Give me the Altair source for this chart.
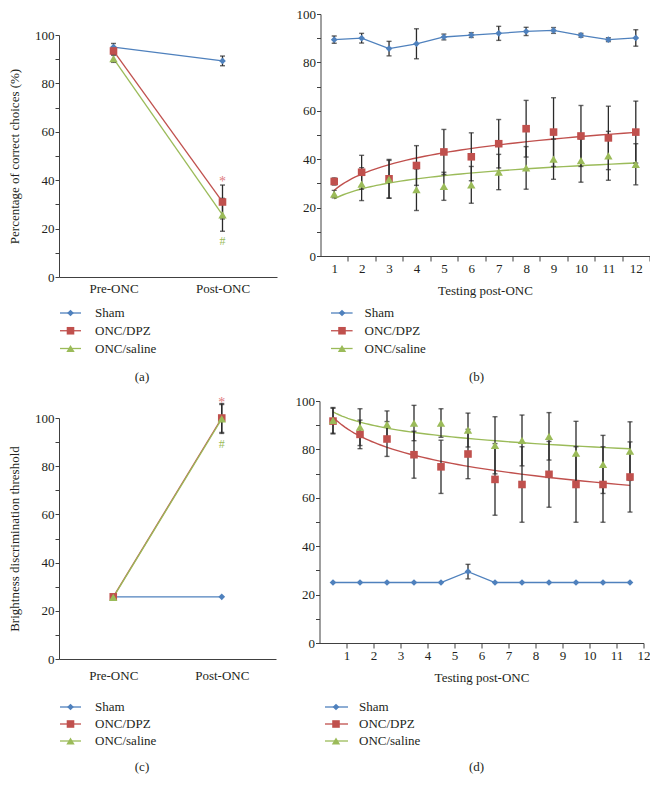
import altair as alt
import pandas as pd

FONT = "Liberation Serif"
TXT = "#231F20"
AX = "#404040"
EB = "#2a2a2a"

groups = ["Sham", "ONC/DPZ", "ONC/saline"]
colors = ["#4F81BD", "#C0504D", "#9BBB59"]
shapes = ["diamond", "square", "triangle-up"]

# ---------- panel (a) ----------
phases = ["Pre-ONC", "Post-ONC"]
a_sham = [95.0, 89.3]
a_sham_err = [1.5, 2.0]
a_dpz = [93.4, 31.0]
a_dpz_err = [1.5, 7.0]
a_sal = [90.2, 25.7]
a_sal_err = [1.5, 6.8]
a_star = 40.6
a_hash = 14.9

# ---------- panel (b) ----------
b_sessions = [1, 2, 3, 4, 5, 6, 7, 8, 9, 10, 11, 12]
b_sham = [89.4, 90.0, 85.7, 87.7, 90.5, 91.3, 92.0, 92.8, 93.2, 91.2, 89.4, 90.1]
b_sham_err = [1.5, 2.0, 3.0, 6.2, 1.2, 1.0, 2.9, 1.7, 1.2, 0.8, 0.8, 3.4]
b_dpz = [30.8, 34.6, 31.9, 37.4, 43.0, 41.0, 46.4, 52.6, 51.2, 49.6, 48.8, 51.2]
b_dpz_err = [1.5, 7.0, 8.0, 8.2, 9.3, 9.9, 10.0, 11.7, 14.2, 12.6, 13.1, 12.8]
b_sal = [25.6, 29.7, 31.7, 27.4, 28.8, 29.4, 34.7, 36.4, 40.0, 39.4, 41.4, 37.9]
b_sal_err = [1.5, 6.8, 7.8, 8.6, 5.8, 7.6, 7.3, 8.8, 8.3, 8.9, 10.1, 8.5]

# ---------- panel (c) ----------
c_sham = [25.8, 25.8]
c_sham_err = [0.0, 0.0]
c_dpz = [25.8, 100.0]
c_dpz_err = [0.0, 6.0]
c_sal = [25.6, 99.6]
c_sal_err = [0.0, 6.0]
c_star = 107.5
c_hash = 89.3

# ---------- panel (d) ----------
d_sessions = [0.5, 1.5, 2.5, 3.5, 4.5, 5.5, 6.5, 7.5, 8.5, 9.5, 10.5, 11.5]
d_sham = [25.0, 25.0, 25.0, 25.0, 25.0, 29.5, 25.0, 25.0, 25.0, 25.0, 25.0, 25.0]
d_sham_err = [0, 0, 0, 0, 0, 3.0, 0, 0, 0, 0, 0, 0]
d_dpz = [91.7, 86.2, 84.3, 77.8, 72.8, 78.1, 67.6, 65.5, 69.7, 65.5, 65.5, 68.6]
d_dpz_err = [5.3, 5.9, 7.2, 9.7, 11.0, 10.2, 14.8, 15.6, 13.6, 15.6, 15.6, 14.5]
d_sal = [92.0, 89.2, 90.3, 90.9, 90.9, 88.0, 81.7, 83.7, 85.4, 78.5, 73.8, 79.3]
d_sal_err = [5.3, 7.6, 5.6, 7.3, 5.9, 7.0, 11.8, 10.5, 9.8, 13.1, 12.0, 12.1]


def long_table(xs, vals, errs):
    rows = []
    for g, vs, es in zip(groups, vals, errs):
        for x, v, e in zip(xs, vs, es):
            rows.append({"x": x, "group": g, "value": v, "lo": v - e, "hi": v + e})
    return pd.DataFrame(rows)


df_a = long_table(phases, [a_sham, a_dpz, a_sal], [a_sham_err, a_dpz_err, a_sal_err])
df_b = long_table(b_sessions, [b_sham, b_dpz, b_sal], [b_sham_err, b_dpz_err, b_sal_err])
df_c = long_table(phases, [c_sham, c_dpz, c_sal], [c_sham_err, c_dpz_err, c_sal_err])
df_d = long_table(d_sessions, [d_sham, d_dpz, d_sal], [d_sham_err, d_dpz_err, d_sal_err])

color_enc = alt.Color("group:N", scale=alt.Scale(domain=groups, range=colors), legend=None)
shape_enc = alt.Shape("group:N", scale=alt.Scale(domain=groups, range=shapes), legend=None)


def size_enc(rng):
    return alt.Size("group:N", scale=alt.Scale(domain=groups, range=rng), legend=None)


def y_axis(title, pad=13.5):
    kw = dict(values=list(range(0, 101, 10)),
              labelExpr="datum.value % 20 === 0 ? datum.label : ''",
              tickSize=4, labelPadding=1, grid=False,
              domainColor=AX, tickColor=AX, labelColor=TXT,
              labelFont=FONT, labelFontSize=13)
    if title:
        kw.update(title=title, titleFont=FONT, titleFontSize=13,
                  titleFontWeight="normal", titleColor=TXT, titlePadding=pad)
    else:
        kw["title"] = None
    return alt.Axis(**kw)


def errorbars(base, xenc, ysc, yax):
    eb = base.transform_filter("datum.hi > datum.lo")
    bars = eb.mark_rule(color=EB, strokeWidth=1.3).encode(
        x=xenc, y=alt.Y("lo:Q", scale=ysc, axis=yax), y2="hi:Q")
    lo = eb.mark_tick(color=EB, orient="horizontal", size=5, thickness=1.4).encode(
        x=xenc, y=alt.Y("lo:Q", scale=ysc, axis=yax))
    hi = eb.mark_tick(color=EB, orient="horizontal", size=5, thickness=1.4).encode(
        x=xenc, y=alt.Y("hi:Q", scale=ysc, axis=yax))
    return [bars, lo, hi]


def cat_panel(df, star_v, hash_v, ytitle, w, h, lift, lpad, sal_opacity):
    # plot area sits `lift` px lower than the neighbouring panel's
    ysc = alt.Scale(domain=[0, 100], nice=False, range=[h + lift, lift])
    xenc = alt.X("x:N", scale=alt.Scale(type="point", domain=phases, padding=0.5),
                 axis=alt.Axis(title=None, ticks=False, tickSize=0, labelAngle=0,
                               labelPadding=lpad, domainColor=AX, labelColor=TXT,
                               labelFont=FONT, labelFontSize=13, grid=False))
    yax = y_axis(ytitle)
    yenc = alt.Y("value:Q", scale=ysc, axis=yax)
    base = alt.Chart(df)
    lines = base.mark_line(strokeWidth=1.3).encode(
        x=xenc, y=yenc, color=color_enc,
        opacity=alt.Opacity("group:N", scale=alt.Scale(domain=groups, range=[1, 1, sal_opacity]), legend=None))
    pts = base.mark_point(filled=True, opacity=1).encode(
        x=xenc, y=yenc, color=color_enc, shape=shape_enc, size=size_enc([45, 70, 75]))
    star = alt.Chart(pd.DataFrame({"x": ["Post-ONC"], "value": [star_v], "t": ["*"]})).mark_text(
        font=FONT, fontSize=14, color="#E07A80", dy=3).encode(x=xenc, y=yenc, text="t:N")
    hsh = alt.Chart(pd.DataFrame({"x": ["Post-ONC"], "value": [hash_v], "t": ["#"]})).mark_text(
        font=FONT, fontSize=12, color="#9BBB59").encode(x=xenc, y=yenc, text="t:N")
    return alt.layer(lines, *errorbars(base, xenc, ysc, yax), pts, star, hsh).properties(width=w, height=h + lift)


def num_panel(df, xenc, w, h, shift):
    ysc = alt.Scale(domain=[0, 100], nice=False)
    yax = y_axis(None)
    yenc = alt.Y("value:Q", scale=ysc, axis=yax)
    base = alt.Chart(df)
    sham_line = base.transform_filter("datum.group == 'Sham'").mark_line(strokeWidth=1.3).encode(
        x=xenc, y=yenc, color=color_enc)
    trend = (base.transform_filter("datum.group != 'Sham'")
             .transform_calculate(idx=f"datum.x + {shift}")
             .transform_regression("idx", "value", method="log", groupby=["group"])
             .transform_calculate(x=f"datum.idx - {shift}")
             .mark_line(strokeWidth=1.4)
             .encode(x=xenc, y=yenc, color=color_enc))
    pts = base.mark_point(filled=True, opacity=1).encode(
        x=xenc, y=yenc, color=color_enc, shape=shape_enc, size=size_enc([45, 58, 62]))
    return alt.layer(sham_line, trend, *errorbars(base, xenc, ysc, yax), pts).properties(width=w, height=h)


def x_num_axis(values, toff=0.0, loff=0.0):
    kw = dict(values=values, tickSize=5, labelPadding=1, grid=False, labelFlush=False,
              domainColor=AX, tickColor=AX, labelColor=TXT, labelFont=FONT, labelFontSize=13,
              title="Testing post-ONC", titleFont=FONT, titleFontSize=13,
              titleFontWeight="normal", titleColor=TXT, titlePadding=9)
    if toff:
        kw.update(tickOffset=toff, labelOffset=loff)
    return alt.Axis(**kw)


AW, BW, CW, DW = 218, 329, 217, 324

panel_a = cat_panel(df_a, a_star, a_hash, "Percentage of correct choices (%)", AW, 242, 21, 5.8, 1)
bx = alt.X("x:Q", scale=alt.Scale(domain=[0.5, 12.5], nice=False, zero=False),
           axis=x_num_axis(b_sessions, BW / 24, -BW / 24))
panel_b = num_panel(df_b, bx, BW, 242, 0)

panel_c = cat_panel(df_c, c_star, c_hash, "Brightness discrimination threshold", CW, 241, 17, 10.8, 0.5)
dx = alt.X("x:Q", scale=alt.Scale(domain=[0, 12], nice=False, zero=False),
           axis=x_num_axis(list(range(1, 13))))
panel_d = num_panel(df_d, dx, DW, 242, 0.5)


def legend_chart(ys, left, right, caps, cap_y, height):
    ldf = pd.DataFrame({"group": groups})
    yenc = alt.Y("group:N", scale=alt.Scale(type="point", domain=groups, range=[ys[0], ys[1]], padding=0), axis=None)
    layers = []
    for (x1, x2, sx, tx) in (left, right):
        base = alt.Chart(ldf)
        layers.append(base.mark_rule(strokeWidth=1.3).encode(
            x=alt.value(x1), x2=alt.value(x2), y=yenc, color=color_enc))
        layers.append(base.mark_point(filled=True, opacity=1).encode(
            x=alt.value(sx), y=yenc, color=color_enc, shape=shape_enc, size=size_enc([28, 40, 42])))
        layers.append(base.mark_text(font=FONT, fontSize=13, color=TXT, align="left", baseline="middle").encode(
            x=alt.value(tx), y=yenc, text="group:N"))
    for cap, cx in caps:
        layers.append(alt.Chart(pd.DataFrame({"cap": [cap]})).mark_text(
            font=FONT, fontSize=13, color=TXT, align="center", baseline="middle").encode(
            x=alt.value(cx), y=alt.value(cap_y), text="cap:N"))
    return alt.layer(*layers).properties(width=500, height=height)


# legend positions are relative to the left plot's origin
leg1 = legend_chart([16, 51.5], (1, 22, 11.5, 36), (272, 293.6, 283, 305.5),
                    [("(a)", 83), ("(b)", 417.5)], 79.5, 98)
leg2 = legend_chart([23, 57], (1, 22, 11.5, 36), (266, 289, 277, 300),
                    [("(c)", 83), ("(d)", 417.5)], 83, 90)

row1 = alt.hconcat(panel_a, panel_b, spacing=18.5)
row2 = alt.hconcat(panel_c, panel_d, spacing=18.5)

chart = (alt.vconcat(row1, leg1, row2, leg2, spacing=0)
         .properties(padding={"left": 0, "top": 0, "right": 0, "bottom": 0}, background="white")
         .configure_view(stroke=None))

chart.save("out.html", embed_options={"renderer": "svg", "actions": False})
